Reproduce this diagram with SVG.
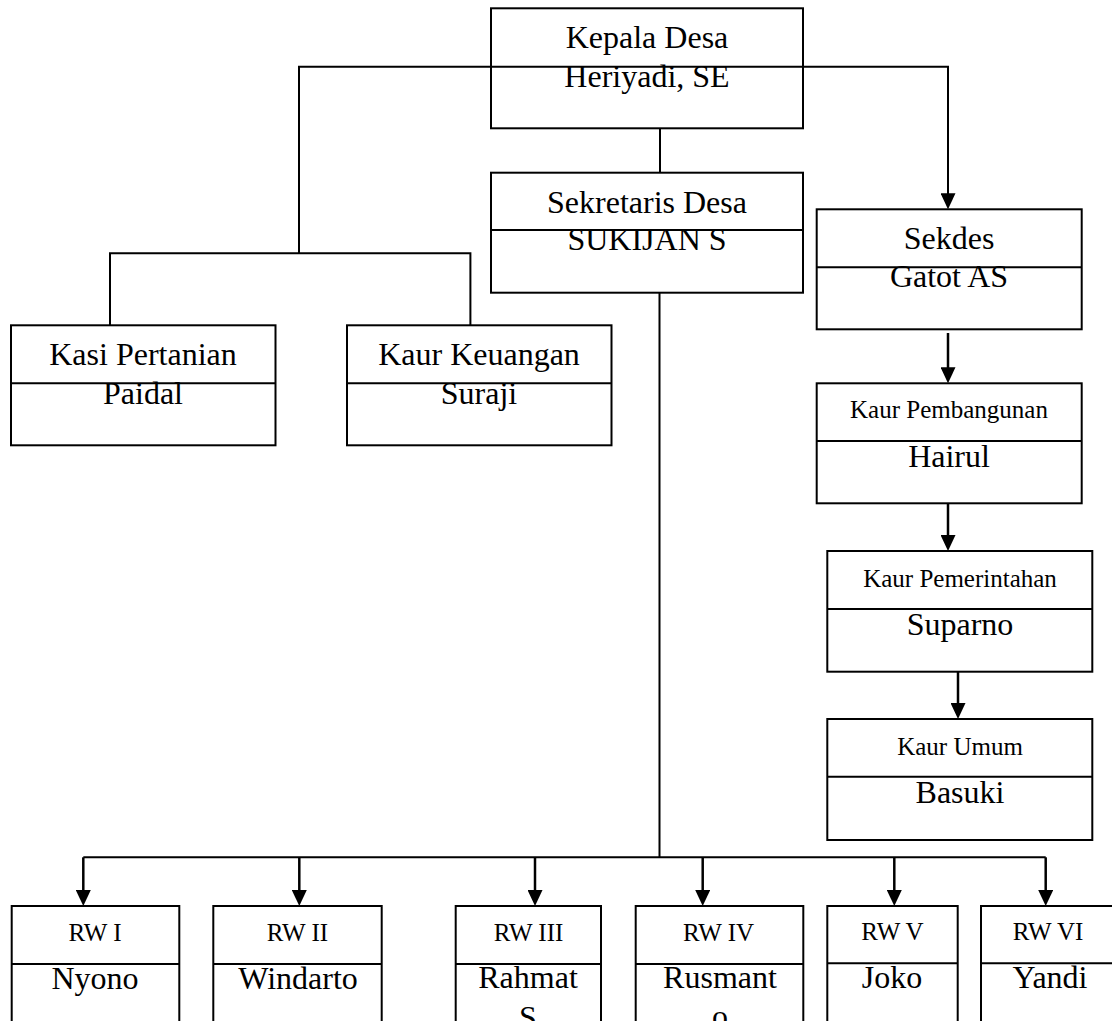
<svg xmlns="http://www.w3.org/2000/svg" width="1112" height="1021" viewBox="0 0 1112 1021">
<style>
.box{fill:none;stroke:#000;stroke-width:2}
.dv{stroke:#000;stroke-width:2}
.t{font-family:"Liberation Serif","Times New Roman",serif;fill:#000;text-anchor:middle}
.l{font-size:32px}
.s{font-size:25px}
.c{fill:none;stroke:#000;stroke-width:2}
.a{fill:none;stroke:#000;stroke-width:2.5;marker-end:url(#ah)}
</style>
<defs>
<marker id="ah" viewBox="0 0 16 15" refX="6" refY="7.5" markerWidth="16" markerHeight="15" markerUnits="userSpaceOnUse" orient="auto"><path d="M0,0L16,7.5L0,15z" fill="#000"/></marker>
</defs>
<rect width="1112" height="1021" fill="#fff"/>
<g id="connectors">
<path class="c" d="M660,128.3V172.7"/>
<path class="c" d="M299,253.3V66.7H948V199.3" style="marker-end:url(#ah)"/>
<path class="c" d="M110,325.3V253.3H470.4V325.3"/>
<path class="c" d="M659.5,292.7V857.3"/>
<path class="c" d="M83.3,857.3H1045.7"/>
<path class="a" d="M83.3,857.3V896"/>
<path class="a" d="M299.3,857.3V896"/>
<path class="a" d="M535,857.3V896"/>
<path class="a" d="M702.7,857.3V896"/>
<path class="a" d="M894.3,857.3V896"/>
<path class="a" d="M1045.7,857.3V896"/>
<path class="a" d="M948,333V373.3"/>
<path class="a" d="M948,503.3V541"/>
<path class="a" d="M958,671.7V709"/>
</g>
<g id="kepala-desa">
<rect class="box" x="491" y="8.3" width="312" height="120"/>
<text class="t l" x="647" y="48">Kepala Desa</text>
<text class="t l" x="647" y="87">Heriyadi, SE</text>
</g>
<g id="sekretaris-desa">
<rect class="box" x="491" y="172.7" width="312" height="120"/>
<line class="dv" x1="491" y1="230" x2="803" y2="230"/>
<text class="t l" x="647" y="212.7">Sekretaris Desa</text>
<text class="t l" x="647" y="250">SUKIJAN S</text>
</g>
<g id="sekdes">
<rect class="box" x="816.7" y="209.3" width="265" height="120"/>
<line class="dv" x1="816.7" y1="267.3" x2="1081.7" y2="267.3"/>
<text class="t l" x="949" y="249.3">Sekdes</text>
<text class="t l" x="949" y="287.3">Gatot AS</text>
</g>
<g id="kasi-pertanian">
<rect class="box" x="11" y="325.3" width="264.5" height="120"/>
<line class="dv" x1="11" y1="383.3" x2="275.5" y2="383.3"/>
<text class="t l" x="143" y="365">Kasi Pertanian</text>
<text class="t l" x="143" y="404">Paidal</text>
</g>
<g id="kaur-keuangan">
<rect class="box" x="347" y="325.3" width="264.5" height="120"/>
<line class="dv" x1="347" y1="383.3" x2="611.5" y2="383.3"/>
<text class="t l" x="479" y="365">Kaur Keuangan</text>
<text class="t l" x="479" y="404">Suraji</text>
</g>
<g id="kaur-pembangunan">
<rect class="box" x="816.7" y="383.3" width="265" height="120"/>
<line class="dv" x1="816.7" y1="441" x2="1081.7" y2="441"/>
<text class="t s" x="949" y="418.3">Kaur Pembangunan</text>
<text class="t l" x="949" y="466.7">Hairul</text>
</g>
<g id="kaur-pemerintahan">
<rect class="box" x="827.3" y="551" width="265" height="120.7"/>
<line class="dv" x1="827.3" y1="609" x2="1092.3" y2="609"/>
<text class="t s" x="960" y="586.7">Kaur Pemerintahan</text>
<text class="t l" x="960" y="635">Suparno</text>
</g>
<g id="kaur-umum">
<rect class="box" x="827.3" y="719" width="265" height="121"/>
<line class="dv" x1="827.3" y1="776.7" x2="1092.3" y2="776.7"/>
<text class="t s" x="960" y="755">Kaur Umum</text>
<text class="t l" x="960" y="803.3">Basuki</text>
</g>
<g id="rw-1">
<rect class="box" x="11.7" y="906" width="167.6" height="140"/>
<line class="dv" x1="11.7" y1="964" x2="179.3" y2="964"/>
<text class="t s" x="95" y="941">RW I</text>
<text class="t l" x="95" y="989">Nyono</text>
</g>
<g id="rw-2">
<rect class="box" x="213.3" y="906" width="168.4" height="140"/>
<line class="dv" x1="213.3" y1="964" x2="381.7" y2="964"/>
<text class="t s" x="297.5" y="941">RW II</text>
<text class="t l" x="298" y="989">Windarto</text>
</g>
<g id="rw-3">
<rect class="box" x="455.7" y="906" width="145.3" height="140"/>
<line class="dv" x1="455.7" y1="964" x2="601" y2="964"/>
<text class="t s" x="528.5" y="941">RW III</text>
<text class="t l" x="528" y="988.3">Rahmat</text>
<text class="t l" x="528" y="1027.5">S</text>
</g>
<g id="rw-4">
<rect class="box" x="635.7" y="906" width="167.6" height="140"/>
<line class="dv" x1="635.7" y1="964" x2="803.3" y2="964"/>
<text class="t s" x="718.5" y="941">RW IV</text>
<text class="t l" x="720" y="988.3">Rusmant</text>
<text class="t l" x="720" y="1026.5">o</text>
</g>
<g id="rw-5">
<rect class="box" x="827.3" y="906" width="130.4" height="140"/>
<line class="dv" x1="827.3" y1="963.3" x2="957.7" y2="963.3"/>
<text class="t s" x="892.5" y="940">RW V</text>
<text class="t l" x="892" y="988.3">Joko</text>
</g>
<g id="rw-6">
<rect class="box" x="981" y="906" width="135" height="140"/>
<line class="dv" x1="981" y1="963.3" x2="1116" y2="963.3"/>
<text class="t s" x="1048" y="940">RW VI</text>
<text class="t l" x="1050" y="988.3">Yandi</text>
</g>
</svg>
